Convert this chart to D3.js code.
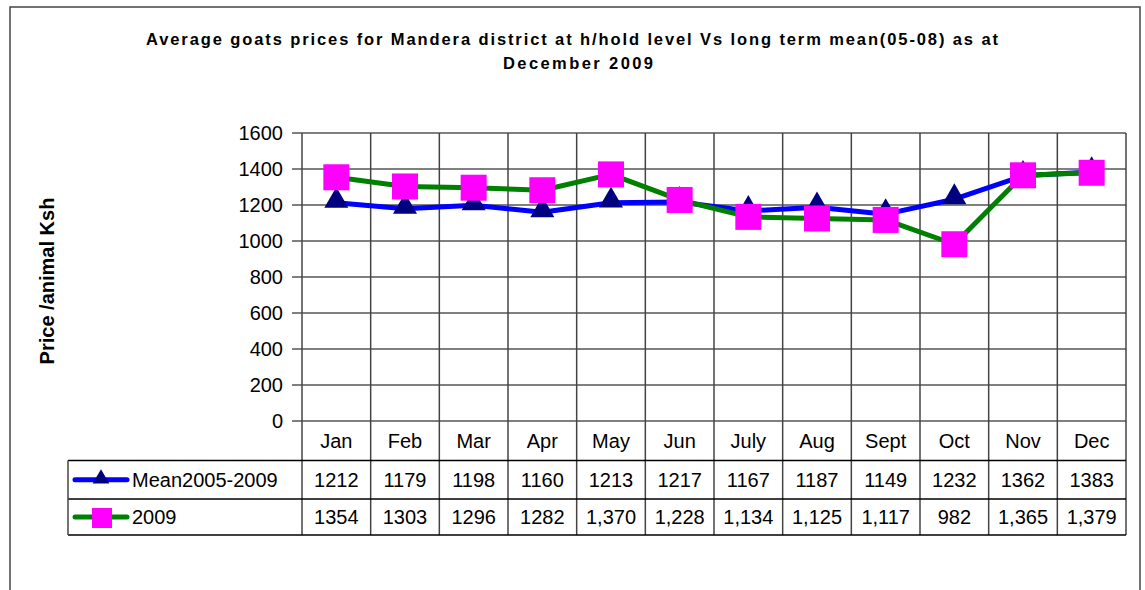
<!DOCTYPE html>
<html>
<head>
<meta charset="utf-8">
<style>
  body { margin: 0; background: #fff; }
  svg { font-family: "Liberation Sans", Arial, sans-serif; }
</style>
</head>
<body>
<svg width="1145" height="590"></svg>
<script src="https://cdn.jsdelivr.net/npm/d3@7/dist/d3.min.js"></script>
<script>

var months = ["Jan", "Feb", "Mar", "Apr", "May", "Jun", "July", "Aug", "Sept", "Oct", "Nov", "Dec"];
var meanValues = [1212, 1179, 1198, 1160, 1213, 1217, 1167, 1187, 1149, 1232, 1362, 1383];
var values2009 = [1354, 1303, 1296, 1282, 1370, 1228, 1134, 1125, 1117, 982, 1365, 1379];
var meanLabels = ["1212", "1179", "1198", "1160", "1213", "1217", "1167", "1187", "1149", "1232", "1362", "1383"];
var labels2009 = ["1354", "1303", "1296", "1282", "1,370", "1,228", "1,134", "1,125", "1,117", "982", "1,365", "1,379"];
var yTicks = [0, 200, 400, 600, 800, 1000, 1200, 1400, 1600];

var svg = d3.select("svg");

var plotLeft = 302, plotRight = 1126, plotTop = 133, plotBottom = 421;
var rowLines = [421, 460.5, 499, 535];
var tableLeft = 68;

var x = d3.scaleBand()
    .domain(months)
    .range([plotLeft, plotRight])
    .padding(0);

var y = d3.scaleLinear()
    .domain([0, 1600])
    .range([plotBottom, plotTop]);

// outer frame
svg.append("rect")
    .attr("x", 10).attr("y", 7)
    .attr("width", 1130).attr("height", 600)
    .attr("fill", "none")
    .attr("stroke", "#444")
    .attr("stroke-width", 1.5);

// title
var title = svg.append("text")
    .attr("font-weight", "bold")
    .attr("font-size", 16.5);
title.append("tspan").attr("x", 146).attr("y", 45)
    .attr("textLength", 852).attr("lengthAdjust", "spacing")
    .text("Average goats prices for Mandera district at h/hold level Vs long term mean(05-08) as at");
title.append("tspan").attr("x", 503).attr("y", 69)
    .attr("textLength", 150).attr("lengthAdjust", "spacing")
    .text("December 2009");

// y label
svg.append("text")
    .attr("transform", "translate(54,281) rotate(-90)")
    .attr("text-anchor", "middle")
    .attr("font-weight", "bold")
    .attr("font-size", 20)
    .text("Price /animal Ksh");

// horizontal grid + ticks
svg.append("g").selectAll("line")
  .data(yTicks)
  .join("line")
    .attr("x1", plotLeft - 10).attr("x2", plotRight)
    .attr("y1", function(d) { return y(d); })
    .attr("y2", function(d) { return y(d); })
    .attr("stroke", "#000")
    .attr("stroke-width", 1);

svg.append("g").selectAll("text")
  .data(yTicks)
  .join("text")
    .attr("x", plotLeft - 19)
    .attr("y", function(d) { return y(d); })
    .attr("dy", "0.35em")
    .attr("text-anchor", "end")
    .attr("font-size", 20)
    .text(function(d) { return d; });

// vertical category lines through the table
var edges = months.map(function(m) { return x(m); }).concat([plotRight]);
svg.append("g").selectAll("line")
  .data(edges)
  .join("line")
    .attr("x1", function(d) { return d; })
    .attr("x2", function(d) { return d; })
    .attr("y1", plotTop).attr("y2", rowLines[3])
    .attr("stroke", "#444")
    .attr("stroke-width", 1.5);

// table lines
svg.append("g").selectAll("line")
  .data(rowLines.slice(1))
  .join("line")
    .attr("x1", tableLeft).attr("x2", plotRight)
    .attr("y1", function(d) { return d; })
    .attr("y2", function(d) { return d; })
    .attr("stroke", "#000")
    .attr("stroke-width", 1.5);

svg.append("line")
    .attr("x1", tableLeft).attr("x2", tableLeft)
    .attr("y1", rowLines[1]).attr("y2", rowLines[3])
    .attr("stroke", "#444")
    .attr("stroke-width", 1.5);

// month labels
svg.append("g").selectAll("text")
  .data(months)
  .join("text")
    .attr("x", function(d) { return x(d) + x.bandwidth() / 2; })
    .attr("y", (rowLines[0] + rowLines[1]) / 2)
    .attr("dy", "0.35em")
    .attr("text-anchor", "middle")
    .attr("font-size", 20)
    .text(function(d) { return d; });

var series = [
  {name: "Mean2005-2009", values: meanValues, labels: meanLabels, line: "#0000ff", marker: "triangle", fill: "#000080"},
  {name: "2009", values: values2009, labels: labels2009, line: "#008000", marker: "square", fill: "#ff00ff"}
];

var triangle = d3.symbol().type(d3.symbolTriangle).size(250);

function drawMarker(g, s, cx, cy) {
  if (s.marker === "triangle") {
    g.append("path")
        .attr("transform", "translate(" + cx + "," + (cy - 2) + ")")
        .attr("d", triangle())
        .attr("fill", s.fill);
  } else {
    g.append("rect")
        .attr("x", cx - 13).attr("y", cy - 13)
        .attr("width", 26).attr("height", 26)
        .attr("fill", s.fill);
  }
}

// table rows with legend keys
series.forEach(function(s, i) {
  var cy = (rowLines[i + 1] + rowLines[i + 2]) / 2;
  var g = svg.append("g");
  g.append("line")
      .attr("x1", 75).attr("x2", 127)
      .attr("y1", cy).attr("y2", cy)
      .attr("stroke", s.line)
      .attr("stroke-width", 5)
      .attr("stroke-linecap", "round");
  if (s.marker === "triangle") {
    g.append("path")
        .attr("transform", "translate(101," + (cy - 1) + ")")
        .attr("d", d3.symbol().type(d3.symbolTriangle).size(120)())
        .attr("fill", s.fill);
  } else {
    g.append("rect")
        .attr("x", 92).attr("y", cy - 9)
        .attr("width", 20).attr("height", 20)
        .attr("fill", s.fill);
  }
  g.append("text")
      .attr("x", 132).attr("y", cy)
      .attr("dy", "0.35em")
      .attr("font-size", 20)
      .text(s.name);
  g.selectAll("text.v")
    .data(s.labels)
    .join("text")
      .attr("class", "v")
      .attr("x", function(d, j) { return x(months[j]) + x.bandwidth() / 2; })
      .attr("y", cy)
      .attr("dy", "0.35em")
      .attr("text-anchor", "middle")
      .attr("font-size", 20)
      .text(function(d) { return d; });
});

// lines and markers
var line = d3.line()
    .x(function(d, j) { return x(months[j]) + x.bandwidth() / 2; })
    .y(function(d) { return y(d); });

series.forEach(function(s) {
  var g = svg.append("g");
  g.append("path")
      .datum(s.values)
      .attr("fill", "none")
      .attr("stroke", s.line)
      .attr("stroke-width", 5)
      .attr("stroke-linejoin", "round")
      .attr("d", line);
  s.values.forEach(function(v, j) {
    drawMarker(g, s, x(months[j]) + x.bandwidth() / 2, y(v));
  });
});

</script>
</body>
</html>
